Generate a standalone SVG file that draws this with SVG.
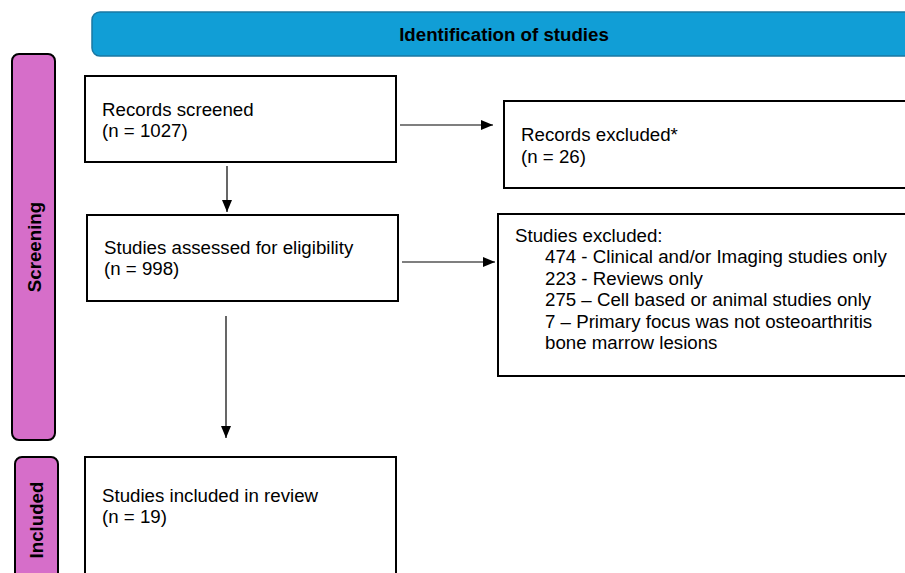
<svg xmlns="http://www.w3.org/2000/svg" width="905" height="573" viewBox="0 0 905 573">
<style>
text{font-family:"Liberation Sans",Arial,sans-serif;font-size:18.7px;fill:#000}
.bold{font-weight:bold}
.box{fill:#fff;stroke:#000;stroke-width:2}
.side{fill:#d66ec9;stroke:#000;stroke-width:2}
.conn{stroke:#000;stroke-width:1.2;fill:none}
</style>
<defs>
<marker id="ah" markerWidth="12" markerHeight="10" refX="12" refY="5" orient="auto" markerUnits="userSpaceOnUse">
<path d="M0,0 L12,5 L0,10 Z" fill="#000"/>
</marker>
</defs>
<rect width="905" height="573" fill="#fff"/>
<g id="header">
<rect x="92" y="12" width="830" height="44" rx="8" fill="#119ed6" stroke="#1a78a3" stroke-width="1.5"/>
<text class="bold" x="504" y="41" text-anchor="middle">Identification of studies</text>
</g>
<g id="screening">
<rect class="side" x="12" y="54" width="43" height="386" rx="7"/>
<text class="bold" transform="translate(41,247) rotate(-90)" text-anchor="middle">Screening</text>
</g>
<g id="included">
<rect class="side" x="15" y="457" width="43" height="140" rx="7"/>
<text class="bold" transform="translate(43,520) rotate(-90)" text-anchor="middle">Included</text>
</g>
<g id="records-screened">
<rect class="box" x="85" y="76" width="311" height="86"/>
<text x="102" y="116">Records screened</text>
<text x="102" y="137">(n = 1027)</text>
</g>
<g id="records-excluded">
<rect class="box" x="504" y="101" width="420" height="87"/>
<text x="521" y="141">Records excluded*</text>
<text x="521" y="163">(n = 26)</text>
</g>
<g id="studies-assessed">
<rect class="box" x="87" y="215" width="311" height="86"/>
<text x="104" y="254">Studies assessed for eligibility</text>
<text x="104" y="275">(n = 998)</text>
</g>
<g id="studies-excluded">
<rect class="box" x="498" y="214" width="420" height="162"/>
<text x="515" y="242">Studies excluded:</text>
<text x="545" y="263">474 - Clinical and/or Imaging studies only</text>
<text x="545" y="284.5">223 - Reviews only</text>
<text x="545" y="306">275 – Cell based or animal studies only</text>
<text x="545" y="327.5">7 – Primary focus was not osteoarthritis</text>
<text x="545" y="349">bone marrow lesions</text>
</g>
<g id="studies-included">
<rect class="box" x="85" y="457" width="311" height="140"/>
<text x="102" y="502">Studies included in review</text>
<text x="102" y="523">(n = 19)</text>
</g>
<g id="connectors">
<line class="conn" x1="400" y1="125" x2="493" y2="125" marker-end="url(#ah)"/>
<line class="conn" x1="227" y1="166" x2="227" y2="212" marker-end="url(#ah)"/>
<line class="conn" x1="402" y1="262" x2="495" y2="262" marker-end="url(#ah)"/>
<line class="conn" x1="226" y1="316" x2="226" y2="438" marker-end="url(#ah)"/>
</g>
</svg>
